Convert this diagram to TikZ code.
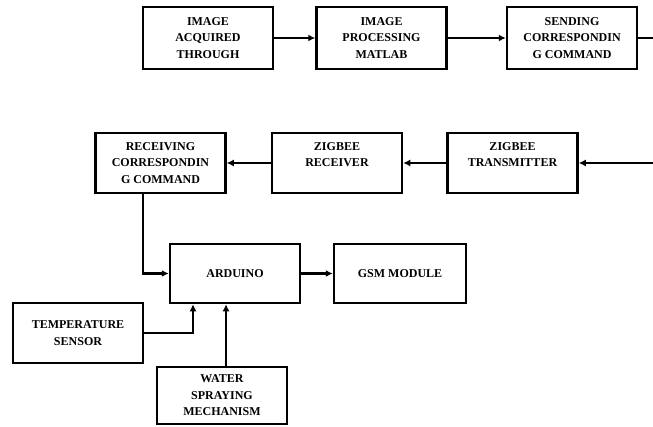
\documentclass[tikz,border=0pt]{standalone}
\usepackage{fontspec}
\setmainfont{Liberation Serif}
\usetikzlibrary{arrows.meta}

\begin{document}
\begin{tikzpicture}[x=1pt, y=-1pt]
\tikzstyle{block}=[rectangle, draw=black, line width=2.5pt, minimum width=130pt, minimum height=60pt, align=center, inner sep=2pt, font=\fontsize{12}{16.5}\selectfont\bfseries]
\tikzstyle{drawstyle}=[line width=2.5pt, -{Latex[length=7pt,width=7pt]}]

\useasboundingbox (0,0) rectangle (653,426);

% top row
\node[block, minimum height=62pt] (acq) at (208,38) {IMAGE\\ACQUIRED\\THROUGH};
\node[block, minimum height=62pt] (proc) at (381.5,38) {IMAGE\\PROCESSING\\MATLAB};
\node[block, minimum height=62pt] (send) at (572,38) {SENDING\\CORRESPONDIN\\G COMMAND};
\coordinate (sendout) at (653,38);
\draw[drawstyle] (acq) -- (proc);
\draw[drawstyle] (proc) -- (send);
\draw[line width=2.5pt] (send) -- (sendout);

% middle row
\coordinate (txin) at (653,163);
\node[block] (ztx) at (512.5,163) {ZIGBEE\\TRANSMITTER\\\mbox{}};
\node[block] (zrx) at (337,163) {ZIGBEE\\RECEIVER\\\mbox{}};
\node[block] (recv) at (160.5,163) {RECEIVING\\CORRESPONDIN\\G COMMAND};
\draw[drawstyle] (txin) -- (ztx);
\draw[drawstyle] (ztx) -- (zrx);
\draw[drawstyle] (zrx) -- (recv);

% bottom part
\node[block, minimum height=59pt] (ard) at (235,273.5) {ARDUINO};
\node[block, minimum width=132pt, minimum height=59pt] (gsm) at (400,273.5) {GSM MODULE};
\node[block] (temp) at (78,333) {TEMPERATURE\\SENSOR};
\node[block, minimum height=57pt] (water) at (222,395.5) {WATER\\SPRAYING\\MECHANISM};
\draw[drawstyle] ([xshift=-17.5pt]recv.south) |- (ard.west);
\draw[drawstyle] (ard) -- (gsm);
\draw[drawstyle] (temp.east) -| ([xshift=-42pt]ard.south);
\draw[drawstyle] ([xshift=4pt]water.north) -- ([xshift=-9pt]ard.south);
\end{tikzpicture}
\end{document}
